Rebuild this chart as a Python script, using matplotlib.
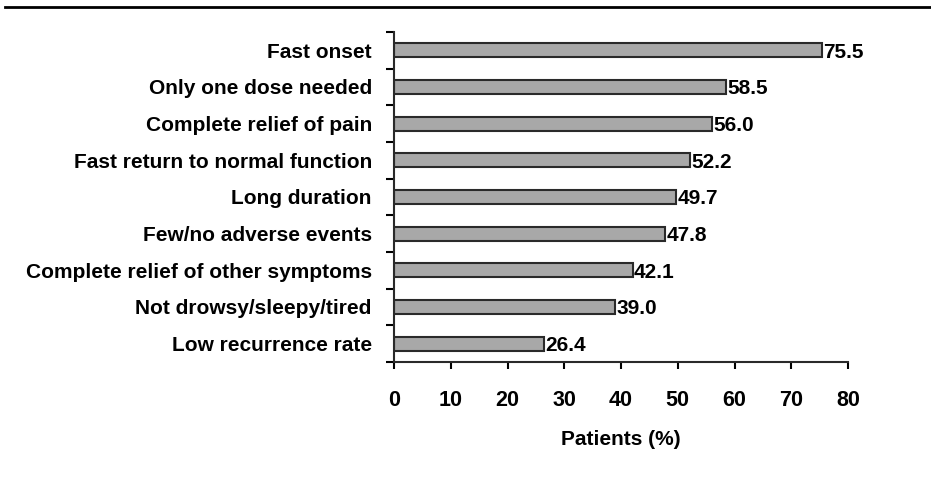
import matplotlib
matplotlib.use("Agg")
import matplotlib.pyplot as plt
import numpy as np
from matplotlib.lines import Line2D

categories = ["Fast onset", "Only one dose needed", "Complete relief of pain",
              "Fast return to normal function", "Long duration",
              "Few/no adverse events", "Complete relief of other symptoms",
              "Not drowsy/sleepy/tired", "Low recurrence rate"]
values = [75.5, 58.5, 56.0, 52.2, 49.7, 47.8, 42.1, 39.0, 26.4]
xticks = [0, 10, 20, 30, 40, 50, 60, 70, 80]

plt.rcParams['font.family'] = ['Liberation Sans', 'DejaVu Sans']
plt.rcParams['font.weight'] = 'bold'

fig = plt.figure(figsize=(9.31, 4.87), dpi=100)
ax = fig.add_axes([394 / 931, 1 - 362 / 487, 454 / 931, 330 / 487])

y = np.arange(len(categories))
ax.barh(y, values, height=0.38, color='#a8a8a8', edgecolor='#2a2a2a', linewidth=1.5)
for yi, v in zip(y, values):
    ax.text(v + 0.2, yi + 0.05, f"{v:.1f}", va='center', ha='left', fontsize=15, fontweight='bold')

ax.set_xlim(0, 80)
ax.set_ylim(len(categories) - 0.5, -0.5)
ax.set_xticks(xticks)
ax.set_xticklabels([str(t) for t in xticks], fontsize=15.5, fontweight='bold')
ax.set_yticks(y)
ax.set_yticklabels(categories, fontsize=15, fontweight='bold')
ax.tick_params(axis='y', which='major', length=0, pad=16)
ax.set_yticks(np.arange(-0.5, len(categories), 1.0), minor=True)
ax.tick_params(axis='y', which='minor', length=6, width=1.5, direction='out')
ax.tick_params(axis='x', length=5, width=1.5, direction='out', pad=15)
ax.set_xlabel("Patients (%)", fontsize=15, fontweight='bold', labelpad=14)

for s in ['top', 'right']:
    ax.spines[s].set_visible(False)
for s in ['left', 'bottom']:
    ax.spines[s].set_linewidth(1.5)
    ax.spines[s].set_color('#2a2a2a')

fig.add_artist(Line2D([5 / 931, 1], [1 - 7 / 487, 1 - 7 / 487], color='black', linewidth=2))

fig.savefig("out.png", dpi=100)
